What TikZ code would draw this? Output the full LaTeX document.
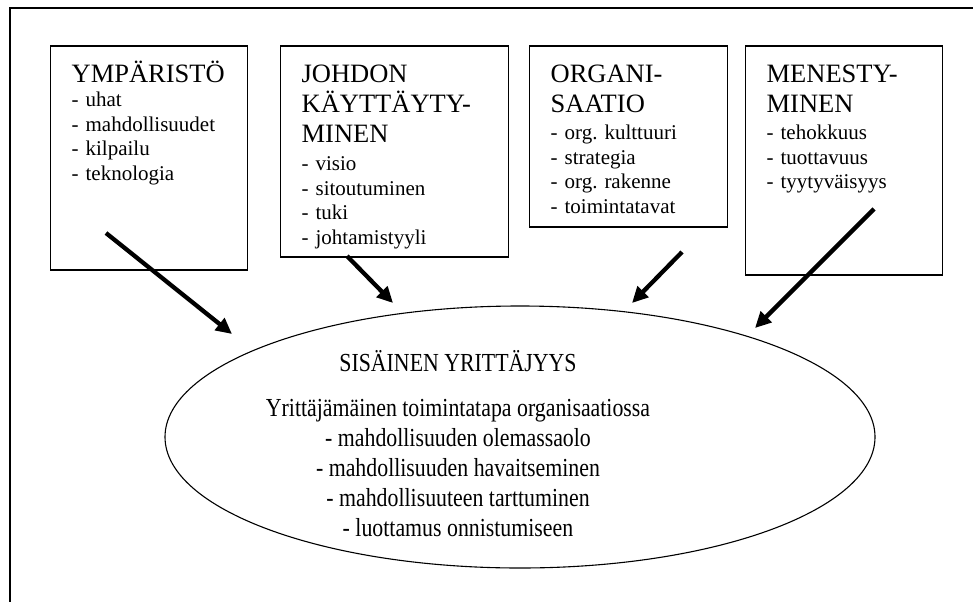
\documentclass[tikz,border=0pt]{standalone}
\usepackage{fontspec}
\setmainfont{Liberation Serif}
\newfontfamily\kapeafont[FakeStretch=0.84]{Liberation Serif}
\usetikzlibrary{arrows.meta,shapes.geometric}
\newcommand{\otsikko}{\fontsize{26.5}{30}\selectfont}
\newcommand{\kohdat}{\fontsize{21}{24.5}\selectfont}
\tikzset{
	laatikko/.style={draw, rectangle, line width=1.3pt, anchor=base west, align=left, inner xsep=21pt, inner ysep=0pt, text height=36pt, font=\kohdat},
	nuoli/.style={line width=4.3pt, -{Triangle[length=16pt,width=15pt]}},
}
\begin{document}
\begin{tikzpicture}[x=1pt,y=-1pt]
	\useasboundingbox (0,0) rectangle (973,602);
	\draw[line width=1.4pt] (973,8) -- (10,8) -- (10,602);
	\node[laatikko, text width=155pt, text depth=188pt] (Ymparisto) at (50,82) {{\otsikko YMPÄRISTÖ\par}- uhat\\- mahdollisuudet\\- kilpailu\\- teknologia};
	\node[laatikko, text width=186pt, text depth=175pt] (Johdon kayttaytyminen) at (280,82) {{\otsikko JOHDON\\KÄYTTÄYTY-\\MINEN\par}\vspace{4pt}- visio\\- sitoutuminen\\- tuki\\- johtamistyyli};
	\node[laatikko, text width=156pt, text depth=145pt] (Organisaatio) at (529,82) {{\otsikko ORGANI-\\SAATIO\par}\vspace{3pt}- org.\ kulttuuri\\- strategia\\- org.\ rakenne\\- toimintatavat};
	\node[laatikko, text width=155pt, text depth=193pt] (Menestyminen) at (745,82) {{\otsikko MENESTY-\\MINEN\par}\vspace{3pt}- tehokkuus\\- tuottavuus\\- tyytyväisyys};
	\node[draw, ellipse, line width=1.1pt, minimum width=710pt, minimum height=262pt] (Sisainen yrittajyys) at (520,437) {};
	\node[align=center, anchor=base, font={\kapeafont\fontsize{26}{30}\selectfont}] (Sisainen teksti) at (458,536) {SISÄINEN YRITTÄJYYS\\[15pt]Yrittäjämäinen toimintatapa organisaatiossa\\- mahdollisuuden olemassaolo\\- mahdollisuuden havaitseminen\\- mahdollisuuteen tarttuminen\\- luottamus onnistumiseen};
	\coordinate (Ymparisto lahto) at (106,233);
	\coordinate (Ymparisto kohde) at (232,334);
	\coordinate (Johdon lahto) at (347,256);
	\coordinate (Johdon kohde) at (393,303);
	\coordinate (Organisaatio lahto) at (682,252);
	\coordinate (Organisaatio kohde) at (632,303);
	\coordinate (Menestyminen lahto) at (874,209);
	\coordinate (Menestyminen kohde) at (755,328);
	\draw[nuoli] (Ymparisto lahto) -- (Ymparisto kohde);
	\draw[nuoli] (Johdon lahto) -- (Johdon kohde);
	\draw[nuoli] (Organisaatio lahto) -- (Organisaatio kohde);
	\draw[nuoli] (Menestyminen lahto) -- (Menestyminen kohde);
\end{tikzpicture}
\end{document}
